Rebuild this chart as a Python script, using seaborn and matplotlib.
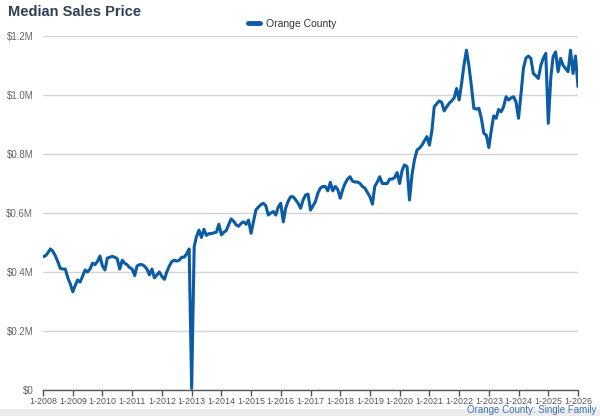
import matplotlib
matplotlib.use("Agg")
import matplotlib.pyplot as plt
import matplotlib.dates as mdates
from matplotlib.ticker import FuncFormatter
from matplotlib.patches import Rectangle
from matplotlib.lines import Line2D
import numpy as np
import pandas as pd
import seaborn as sns

series_name = "Orange County"
title = "Median Sales Price"
caption = "Orange County: Single Family"
start_month = "2008-01-01"

# Monthly median sales price in $M, Jan 2008 .. Jan 2026
v2008 = [0.452, 0.455, 0.465, 0.478, 0.470, 0.455, 0.435, 0.412, 0.410, 0.410, 0.380, 0.360]
v2009 = [0.333, 0.355, 0.373, 0.366, 0.385, 0.407, 0.400, 0.410, 0.430, 0.425, 0.436, 0.454]
v2010 = [0.420, 0.407, 0.447, 0.450, 0.453, 0.450, 0.445, 0.410, 0.440, 0.430, 0.424, 0.415]
v2011 = [0.410, 0.388, 0.420, 0.425, 0.425, 0.420, 0.410, 0.390, 0.410, 0.380, 0.390, 0.400]
v2012 = [0.385, 0.375, 0.400, 0.420, 0.435, 0.440, 0.437, 0.440, 0.450, 0.450, 0.462, 0.478]
v2013 = [0.005, 0.486, 0.520, 0.542, 0.517, 0.545, 0.524, 0.530, 0.530, 0.533, 0.535, 0.562]
v2014 = [0.526, 0.535, 0.540, 0.560, 0.580, 0.572, 0.560, 0.555, 0.565, 0.570, 0.562, 0.576]
v2015 = [0.531, 0.572, 0.610, 0.620, 0.628, 0.633, 0.625, 0.593, 0.600, 0.605, 0.593, 0.620]
v2016 = [0.633, 0.570, 0.616, 0.640, 0.655, 0.655, 0.645, 0.633, 0.616, 0.644, 0.661, 0.664]
v2017 = [0.610, 0.625, 0.638, 0.667, 0.684, 0.690, 0.690, 0.675, 0.704, 0.675, 0.690, 0.680]
v2018 = [0.650, 0.680, 0.700, 0.715, 0.723, 0.708, 0.705, 0.705, 0.700, 0.690, 0.684, 0.670]
v2019 = [0.655, 0.630, 0.690, 0.705, 0.723, 0.700, 0.700, 0.700, 0.715, 0.715, 0.720, 0.737]
v2020 = [0.700, 0.745, 0.763, 0.757, 0.644, 0.730, 0.780, 0.813, 0.820, 0.830, 0.845, 0.859]
v2021 = [0.830, 0.880, 0.960, 0.970, 0.980, 0.975, 0.946, 0.960, 0.972, 0.980, 0.990, 1.022]
v2022 = [0.983, 1.040, 1.100, 1.152, 1.100, 1.030, 0.955, 0.952, 0.955, 0.921, 0.870, 0.864]
v2023 = [0.822, 0.881, 0.929, 0.921, 0.951, 0.943, 0.960, 0.994, 0.983, 0.990, 0.994, 0.977]
v2024 = [0.921, 1.005, 1.090, 1.125, 1.132, 1.124, 1.073, 1.065, 1.056, 1.100, 1.125, 1.141]
v2025 = [0.904, 1.060, 1.130, 1.146, 1.079, 1.124, 1.101, 1.090, 1.079, 1.152, 1.073, 1.132]
v2026 = [1.028]

values_m = (v2008 + v2009 + v2010 + v2011 + v2012 + v2013 + v2014 + v2015 + v2016
            + v2017 + v2018 + v2019 + v2020 + v2021 + v2022 + v2023 + v2024 + v2025 + v2026)
dates = pd.date_range(start_month, periods=len(values_m), freq="MS")
df = pd.DataFrame({"date": dates, "price": np.array(values_m) * 1e6, "series": series_name})

y_ticks = [0, 200000, 400000, 600000, 800000, 1000000, 1200000]
y_labels = ["$0", "$0.2M", "$0.4M", "$0.6M", "$0.8M", "$1.0M", "$1.2M"]

sns.set_theme(style="white")
plt.rcParams["font.family"] = ["Liberation Sans", "DejaVu Sans"]

fig = plt.figure(figsize=(6, 4.16), dpi=100)
fig.patch.set_facecolor("white")
ax = fig.add_axes([43 / 600, 1 - 390 / 416, (578 - 43) / 600, (390 - 36) / 416])

line_color = "#0b5ca4"
sns.lineplot(data=df, x="date", y="price", hue="series", palette=[line_color],
             linewidth=2.2, ax=ax, legend=False)

ax.set_xlim(dates[0], dates[-1])
ax.set_ylim(0, 1200000)
ax.set_yticks(y_ticks)
ax.set_yticklabels(y_labels)
ax.yaxis.grid(True, color="#d4d4d4", linewidth=1.0)
ax.set_axisbelow(True)
for s in ["top", "right", "left"]:
    ax.spines[s].set_visible(False)
ax.spines["bottom"].set_color("#555555")
ax.spines["bottom"].set_linewidth(1.0)

ax.xaxis.set_major_locator(mdates.YearLocator(1, month=1, day=1))
ax.xaxis.set_major_formatter(FuncFormatter(lambda x, p: "1-" + mdates.num2date(x).strftime("%Y")))
ax.tick_params(axis="x", which="major", length=4, width=1, color="#555555",
               labelsize=6.4, labelcolor="#555555", pad=1.0, direction="out", bottom=True)
ax.tick_params(axis="y", length=0, labelsize=7, labelcolor="#666666", pad=7)
ax.set_xlabel("")
ax.set_ylabel("")

# title
fig.text(8 / 600, 1 - 12 / 416, title, fontsize=10.5, fontweight="bold",
         color="#2e4053", ha="left", va="center")

# legend
handle = Line2D([0], [0], color=line_color, linewidth=3.5)
fig.legend([handle], [series_name], loc="center", bbox_to_anchor=(292 / 600, 1 - 24 / 416),
           frameon=False, fontsize=7.5, handlelength=1.2, handletextpad=0.5,
           labelcolor="#333333")

# bottom band and caption
fig.patches.append(Rectangle((0, 0), 1, 7 / 416, transform=fig.transFigure,
                             facecolor="#ececec", edgecolor="none", zorder=-1))
fig.text(596 / 600, 1 / 416, caption, fontsize=7.0, color="#3f72b0",
         ha="right", va="bottom")

fig.savefig("out.png", dpi=100)
